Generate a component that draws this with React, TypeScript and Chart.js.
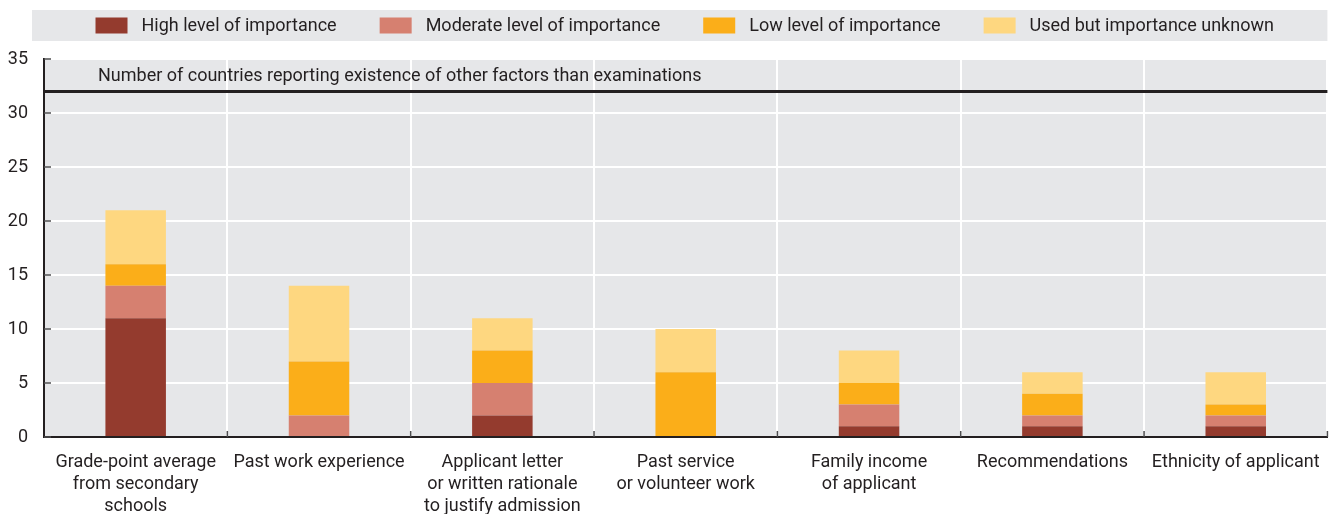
import { useEffect, useRef } from "react";
import { Chart, registerables } from "chart.js";

Chart.register(...registerables);

const categories: string[][] = [
  ["Grade-point average", "from secondary", "schools"],
  ["Past work experience"],
  ["Applicant letter", "or written rationale", "to justify admission"],
  ["Past service", "or volunteer work"],
  ["Family income", "of applicant"],
  ["Recommendations"],
  ["Ethnicity of applicant"],
];

const seriesLabels = [
  "High level of importance",
  "Moderate level of importance",
  "Low level of importance",
  "Used but importance unknown",
];
const seriesColors = ["#943b2e", "#d68070", "#fbae19", "#fed780"];

const highValues = [11, 0, 2, 0, 1, 1, 1];
const moderateValues = [3, 2, 3, 0, 2, 1, 1];
const lowValues = [2, 5, 3, 6, 2, 2, 1];
const unknownValues = [5, 7, 3, 4, 3, 2, 3];

const yMin = 0;
const yMax = 35;
const yStep = 5;

const referenceValue = 32;
const referenceLabel =
  "Number of countries reporting existence of other factors than examinations";

const FONT = "Roboto, 'Liberation Sans', sans-serif";
const FONT_SIZE = 18;
const TEXT = "#231f20";
const PLOT_BG = "#e6e7e9";

const backgroundPlugin = {
  id: "plotBackground",
  beforeDraw(chart: any) {
    const { ctx, chartArea } = chart;
    ctx.save();
    ctx.fillStyle = PLOT_BG;
    ctx.fillRect(
      chartArea.left,
      chartArea.top,
      chartArea.right - chartArea.left,
      chartArea.bottom - chartArea.top
    );
    ctx.restore();
  },
};

const legendPlugin = {
  id: "customLegend",
  afterDraw(chart: any) {
    const { ctx, chartArea } = chart;
    const boxLeft = 32;
    const boxTop = 10;
    const boxHeight = 31;
    const boxRight = chartArea.right;
    ctx.save();
    ctx.fillStyle = PLOT_BG;
    ctx.fillRect(boxLeft, boxTop, boxRight - boxLeft, boxHeight);
    ctx.font = `${FONT_SIZE}px ${FONT}`;
    const swW = 32;
    const swH = 16;
    const swGap = 14;
    const itemGap = 43;
    const datasets = chart.data.datasets;
    const widths = datasets.map((d: any) => ctx.measureText(d.label).width);
    let total = 0;
    widths.forEach((w: number, i: number) => {
      total += swW + swGap + w + (i < widths.length - 1 ? itemGap : 0);
    });
    let x = (boxLeft + boxRight) / 2 - total / 2 + 5;
    const cy = boxTop + boxHeight / 2;
    datasets.forEach((d: any, i: number) => {
      ctx.fillStyle = d.backgroundColor;
      ctx.fillRect(x, cy - swH / 2, swW, swH);
      ctx.fillStyle = TEXT;
      ctx.textBaseline = "middle";
      ctx.textAlign = "left";
      ctx.fillText(d.label, x + swW + swGap, cy + 1);
      x += swW + swGap + widths[i] + itemGap;
    });
    ctx.restore();
  },
};

const referencePlugin = {
  id: "referenceLine",
  afterDatasetsDraw(chart: any) {
    const { ctx, chartArea, scales } = chart;
    const y = scales.y.getPixelForValue(referenceValue);
    ctx.save();
    ctx.strokeStyle = TEXT;
    ctx.lineWidth = 3;
    ctx.beginPath();
    ctx.moveTo(chartArea.left, y);
    ctx.lineTo(chartArea.right, y);
    ctx.stroke();
    ctx.font = `${FONT_SIZE}px ${FONT}`;
    ctx.fillStyle = TEXT;
    ctx.textBaseline = "middle";
    ctx.textAlign = "left";
    const ty = (scales.y.getPixelForValue(yMax) + y) / 2 + 1;
    ctx.fillText(referenceLabel, chartArea.left + 54, ty);
    ctx.restore();
  },
};

const innerTicksPlugin = {
  id: "innerTicks",
  afterDraw(chart: any) {
    const { ctx, chartArea, scales } = chart;
    ctx.save();
    ctx.strokeStyle = "#4d4d4f";
    ctx.lineWidth = 1.5;
    ctx.beginPath();
    scales.y.ticks.forEach((t: any) => {
      const y = scales.y.getPixelForValue(t.value);
      ctx.moveTo(chartArea.left, y);
      ctx.lineTo(chartArea.left + 7, y);
    });
    const n = scales.x.ticks.length;
    for (let i = 1; i <= n; i++) {
      const x =
        (scales.x.getPixelForTick(i - 1) +
          (i < n
            ? scales.x.getPixelForTick(i)
            : 2 * scales.x.getPixelForTick(i - 1) - scales.x.getPixelForTick(i - 2))) /
        2;
      ctx.moveTo(x, chartArea.bottom);
      ctx.lineTo(x, chartArea.bottom - 6);
    }
    ctx.stroke();
    ctx.restore();
  },
};

export default function App() {
  const canvasRef = useRef<HTMLCanvasElement | null>(null);

  useEffect(() => {
    document.body.style.margin = "0";
    const canvas = canvasRef.current;
    if (!canvas) return;
    const values = [highValues, moderateValues, lowValues, unknownValues];
    const chart = new Chart(canvas, {
      type: "bar",
      data: {
        labels: categories,
        datasets: seriesLabels.map((label, i) => ({
          label,
          data: values[i],
          backgroundColor: seriesColors[i],
          borderWidth: 0,
          categoryPercentage: 1,
          barPercentage: 0.33,
        })),
      },
      options: {
        responsive: false,
        animation: false,
        devicePixelRatio: 1,
        layout: { padding: { top: 59, right: 5, left: 0, bottom: 0 } },
        plugins: {
          legend: { display: false },
          tooltip: { enabled: false },
        },
        scales: {
          x: {
            stacked: true,
            offset: true,
            grid: {
              offset: true,
              color: "#ffffff",
              lineWidth: 2,
              drawTicks: false,
            },
            border: { display: true, color: TEXT, width: 2 },
            ticks: {
              color: TEXT,
              font: { family: FONT, size: FONT_SIZE, lineHeight: 22 / FONT_SIZE },
              padding: 14,
              maxRotation: 0,
              autoSkip: false,
            },
            afterFit(scale: any) {
              scale.height = 77;
            },
          },
          y: {
            stacked: true,
            min: yMin,
            max: yMax,
            grid: {
              color: "#ffffff",
              lineWidth: 2,
              drawTicks: false,
            },
            border: { display: true, color: TEXT, width: 2 },
            ticks: {
              stepSize: yStep,
              color: TEXT,
              font: { family: FONT, size: FONT_SIZE },
              padding: 16,
            },
            afterFit(scale: any) {
              scale.width = 44;
            },
          },
        },
      },
      plugins: [backgroundPlugin, referencePlugin, innerTicksPlugin, legendPlugin],
    });
    return () => chart.destroy();
  }, []);

  return (
    <div style={{ width: 1334, height: 514 }}>
      <canvas ref={canvasRef} width={1334} height={514} style={{ display: "block" }} />
    </div>
  );
}
